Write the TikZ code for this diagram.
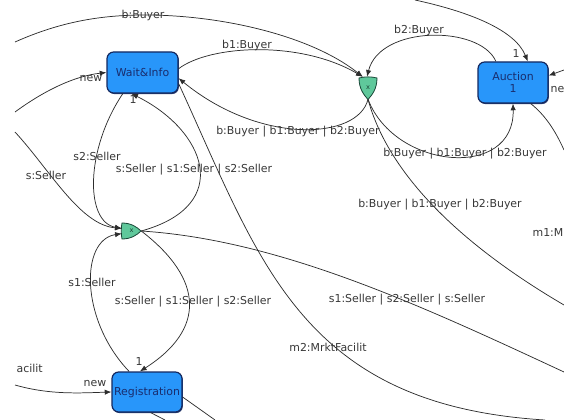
\documentclass[tikz,border=0pt]{standalone}
\usepackage{fontspec}
\setmainfont{DejaVu Sans}
\usepackage{tikz}
\usetikzlibrary{arrows.meta,shadows}
\definecolor{boxfill}{RGB}{40,150,250}
\definecolor{boxline}{RGB}{20,40,95}
\definecolor{boxtext}{RGB}{25,45,110}
\definecolor{gatefill}{RGB}{95,200,155}
\definecolor{gateline}{RGB}{25,70,55}
\definecolor{wirecol}{RGB}{45,45,45}
\definecolor{labeltext}{RGB}{55,55,55}
\tikzset{
  statebox/.style={draw=boxline, line width=0.9pt, fill=boxfill, rounded corners=5pt, text=boxtext, inner sep=1pt, align=center,
    drop shadow={shadow xshift=0.6pt, shadow yshift=-0.8pt, fill=boxline, opacity=0.9}},
  gateport/.style={inner sep=0pt, text=gateline, font=\fontsize{5}{5}\selectfont},
  gateshape/.style={draw=gateline, line width=0.6pt, fill=gatefill},
  wire/.style={draw=wirecol, line width=0.55pt},
  wirearrow/.style={wire, -{Latex[length=5pt,width=4pt]}},
  edgelabel/.style={text=labeltext, inner sep=1pt},
}
\begin{document}
\begin{tikzpicture}[x=0.75pt,y=0.75pt,yscale=-1,xscale=1,font=\fontsize{8.2}{9.5}\selectfont]
  \useasboundingbox (0,0) rectangle (564,420);

  % States
  \node[statebox, minimum width=53.25pt, minimum height=30.75pt] (wait) at (142.5,72.5) {Wait\&Info};
  \node[statebox, minimum width=52.5pt, minimum height=30.75pt] (auction) at (513,82.5) {Auction\\1};
  \node[statebox, minimum width=52.5pt, minimum height=30pt] (registration) at (147,392) {Registration};

  % Gate (shield pointing down)
  \draw[gateshape] (359,78) .. controls (365,76.5) and (371,76.5) .. (377,78) .. controls (377,89) and (372,95) .. (368,99.5) .. controls (364,95) and (359,89) .. (359,78) -- cycle;
  \node[gateport, minimum width=13.5pt, minimum height=16.5pt] (gate1) at (368,88) {x};
  % Gate (shield pointing right)
  \draw[gateshape] (122,223) .. controls (121,228) and (121,234) .. (122,239) .. controls (131,239) and (137,235) .. (141,231) .. controls (137,227) and (131,223) .. (122,223) -- cycle;
  \node[gateport, minimum width=14.25pt, minimum height=12pt] (gate2) at (131.5,231) {x};

  % Free ends
  \coordinate (leftB) at (15,42);
  \coordinate (leftNew) at (15,112);
  \coordinate (leftS) at (15,132);
  \coordinate (leftNewReg) at (15,385);
  \coordinate (topA) at (415,0);
  \coordinate (rightNew) at (564,70);
  \coordinate (rightAu) at (564,150);
  \coordinate (rightB) at (564,305);
  \coordinate (rightS) at (564,372);
  \coordinate (bottomM) at (545,420);
  \coordinate (regOut1) at (215,420);
  \coordinate (regOut2) at (165,420);

  %Curve Lines (buyers)
  \draw[wirearrow] (leftB) .. controls (60,22) and (100,15) .. (145,15) .. controls (220,15) and (310,35) .. (gate1.115);
  \draw[wirearrow] (wait.6) .. controls (210,45) and (300,40) .. (gate1.115);
  \draw[wirearrow] (auction.129) .. controls (480,25) and (380,25) .. (gate1.95);
  \draw[wirearrow] (gate1.south) .. controls (358,140) and (260,145) .. (wait.-9);
  \draw[wirearrow] (gate1.south) .. controls (395,170) and (515,180) .. (auction.south);
  \draw[wire] (gate1.south) .. controls (390,180) and (470,250) .. (rightB);
  %Curve Lines (auction)
  \draw[wirearrow] (topA) .. controls (470,12) and (515,30) .. (auction.55);
  \draw[wirearrow] (rightNew) -- (auction.11);
  \draw[wire] (auction.-50) .. controls (545,115) and (555,130) .. (rightAu);
  \draw[wire] (wait.-17) .. controls (260,260) and (300,405) .. (bottomM);
  %Curve Lines (sellers)
  \draw[wirearrow] (leftNew) .. controls (45,90) and (75,76) .. (wait.west);
  \draw[wirearrow] (leftS) .. controls (50,170) and (80,225) .. (gate2.165);
  \draw[wirearrow] (wait.-133) .. controls (85,150) and (85,222) .. (gate2.165);
  \draw[wirearrow] (gate2.east) .. controls (235,205) and (205,130) .. (wait.-118);
  \draw[wirearrow] (registration.131) .. controls (80,320) and (80,240) .. (gate2.195);
  \draw[wirearrow] (gate2.east) .. controls (205,280) and (205,330) .. (registration.109);
  \draw[wire] (gate2.east) .. controls (280,240) and (420,305) .. (rightS);
  \draw[wirearrow] (leftNewReg) .. controls (50,395) and (80,393) .. (registration.west);
  %Straight Lines
  \draw[wire] (registration.-8) -- (regOut1);
  \draw[wire] (registration.-80) -- (regOut2);

  % Text Node
  \node[edgelabel] (lblB) at (143,15) {b:Buyer};
  \node[edgelabel] (lblB1) at (247,45) {b1:Buyer};
  \node[edgelabel] (lblB2) at (419,30) {b2:Buyer};
  \node[edgelabel] (lblBackWait) at (298,132) {b:Buyer | b1:Buyer | b2:Buyer};
  \node[edgelabel] (lblBackAuction) at (465,154) {b:Buyer | b1:Buyer | b2:Buyer};
  \node[edgelabel] (lblBOut) at (440,205) {b:Buyer | b1:Buyer | b2:Buyer};
  \node[edgelabel] (lblOneAuction) at (516,54) {1};
  \node[edgelabel, anchor=west] (lblNe) at (549,90) {ne};
  \node[edgelabel, anchor=west] (lblM1) at (531,233) {m1:M};
  \node[edgelabel] (lblM2) at (328,347) {m2:MrktFacilit};
  % Text Node
  \node[edgelabel] (lblNewWait) at (91,79) {new};
  \node[edgelabel] (lblS) at (46,175) {s:Seller};
  \node[edgelabel] (lblS2) at (97,156) {s2:Seller};
  \node[edgelabel] (lblBackS) at (194,170) {s:Seller | s1:Seller | s2:Seller};
  \node[edgelabel] (lblOneWait) at (133,100) {1};
  \node[edgelabel] (lblS1) at (92,282) {s1:Seller};
  \node[edgelabel] (lblRegS) at (193,302) {s:Seller | s1:Seller | s2:Seller};
  \node[edgelabel] (lblOneReg) at (139,362) {1};
  \node[edgelabel] (lblNewReg) at (95,384) {new};
  \node[edgelabel, anchor=west] (lblAcilit) at (15,368) {acilit};
  \node[edgelabel] (lblSOut) at (407,300) {s1:Seller | s2:Seller | s:Seller};
\end{tikzpicture}
\end{document}
